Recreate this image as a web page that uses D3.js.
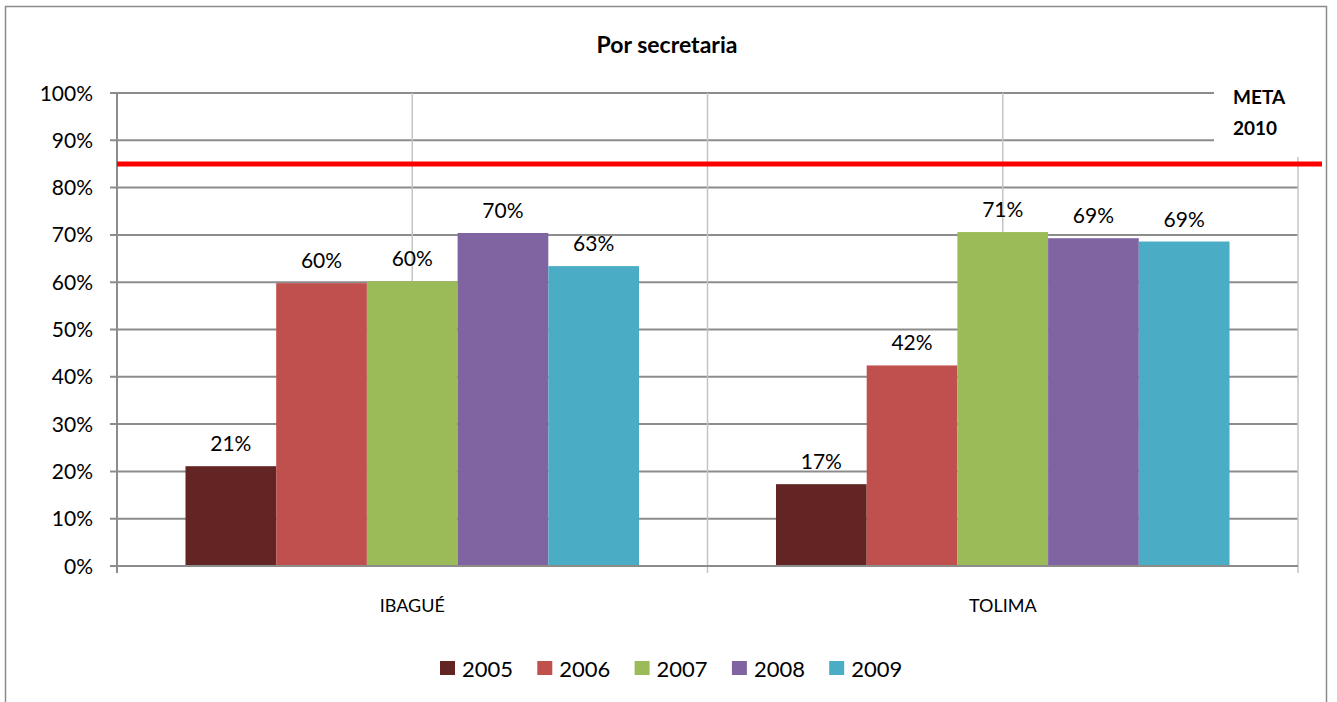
<!DOCTYPE html>
<html><head><meta charset="utf-8">
<script src="https://cdn.jsdelivr.net/npm/d3@7"></script>
<style>body{margin:0;background:#fff}svg{display:block;font-family:Lato,"Open Sans",sans-serif}</style>
</head><body>
<svg id="c" width="1337" height="702"></svg>
<script>
const categories = ["IBAGUÉ", "TOLIMA"];
const years = ["2005", "2006", "2007", "2008", "2009"];
const values2005 = [21.1, 17.3];
const values2006 = [59.8, 42.4];
const values2007 = [60.2, 70.6];
const values2008 = [70.4, 69.3];
const values2009 = [63.4, 68.6];
const colors = ["#632523", "#c0504d", "#9bbb59", "#8064a2", "#4bacc6"];
const yTicks = [0, 10, 20, 30, 40, 50, 60, 70, 80, 90, 100];
const metaValue = 85;
const title = "Por secretaria";
const metaLabel = ["META", "2010"];

const series = [values2005, values2006, values2007, values2008, values2009];
const svg = d3.select("#c");
const L = 117, R = 1298, T = 93, B = 566;
const x0 = d3.scaleBand().domain(categories).range([L, R]).padding(0);
const x1 = d3.scaleBand().domain(years).range([0, x0.bandwidth()]).paddingInner(0).paddingOuter(0.755);
const y = d3.scaleLinear().domain([0, 100]).range([B, T]);

// outer frame
svg.append("rect").attr("x", 5.5).attr("y", 6.5).attr("width", 1321).attr("height", 720)
  .attr("fill", "none").attr("stroke", "#8a8a8a").attr("stroke-width", 1.5);

// title
svg.append("text").attr("x", 667).attr("y", 53).attr("text-anchor", "middle")
  .attr("font-weight", "bold").attr("font-size", 23).attr("fill", "#000").text(title);

// horizontal gridlines
svg.append("g").selectAll("line").data(yTicks.filter(d => d > 0)).join("line")
  .attr("x1", L - 7).attr("x2", R).attr("y1", d => y(d)).attr("y2", d => y(d))
  .attr("stroke", "#8c8c8c").attr("stroke-width", 2);

// vertical gridlines at category centres (light)
svg.append("g").selectAll("line").data(categories).join("line")
  .attr("x1", d => x0(d) + x0.bandwidth() / 2).attr("x2", d => x0(d) + x0.bandwidth() / 2)
  .attr("y1", T).attr("y2", B).attr("stroke", "#c4c4c4").attr("stroke-width", 1.5);
// category boundaries
svg.append("line").attr("x1", x0("TOLIMA")).attr("x2", x0("TOLIMA")).attr("y1", T).attr("y2", B + 7)
  .attr("stroke", "#c4c4c4").attr("stroke-width", 1.5);
svg.append("line").attr("x1", R).attr("x2", R).attr("y1", T).attr("y2", B + 7)
  .attr("stroke", "#c4c4c4").attr("stroke-width", 1.5);

// bars
const gBars = svg.append("g");
categories.forEach((c, ci) => {
  years.forEach((yr, si) => {
    const v = series[si][ci];
    const bx = x0(c) + x1(yr);
    gBars.append("rect").attr("x", bx).attr("y", y(v)).attr("width", x1.bandwidth())
      .attr("height", y(0) - y(v)).attr("fill", colors[si]);
    gBars.append("text").attr("x", bx + x1.bandwidth() / 2).attr("y", y(v) - 15)
      .attr("text-anchor", "middle").attr("font-size", 21).attr("fill", "#000")
      .text(Math.round(v) + "%");
  });
});

// y axis
svg.append("line").attr("x1", L).attr("x2", L).attr("y1", T).attr("y2", B + 7)
  .attr("stroke", "#8c8c8c").attr("stroke-width", 2);
svg.append("line").attr("x1", L - 7).attr("x2", R).attr("y1", B).attr("y2", B)
  .attr("stroke", "#8c8c8c").attr("stroke-width", 2);
svg.append("g").selectAll("text").data(yTicks).join("text")
  .attr("x", 93).attr("y", d => y(d) + 7.5).attr("text-anchor", "end")
  .attr("font-size", 21).attr("fill", "#000").text(d => d + "%");

// x category labels
svg.append("g").selectAll("text").data(categories).join("text")
  .attr("x", d => x0(d) + x0.bandwidth() / 2).attr("y", 612).attr("text-anchor", "middle")
  .attr("font-size", 18).attr("fill", "#000").text(d => d);

// META box
svg.append("rect").attr("x", 1214).attr("y", 75).attr("width", 108).attr("height", 82).attr("fill", "#fff");
svg.append("text").attr("x", 1233).attr("y", 104).attr("font-weight", "bold").attr("font-size", 19).text(metaLabel[0]);
svg.append("text").attr("x", 1233).attr("y", 135).attr("font-weight", "bold").attr("font-size", 19).text(metaLabel[1]);

// meta line
svg.append("line").attr("x1", L).attr("x2", 1322).attr("y1", y(metaValue)).attr("y2", y(metaValue))
  .attr("stroke", "#ff0000").attr("stroke-width", 5);

// legend
const lg = svg.append("g");
years.forEach((yr, i) => {
  const lx = 440 + i * 97.3;
  lg.append("rect").attr("x", lx).attr("y", 661).attr("width", 15).attr("height", 14).attr("fill", colors[i]);
  lg.append("text").attr("x", lx + 22).attr("y", 677).attr("font-size", 22).attr("fill", "#000").text(yr);
});
</script>
</body></html>
